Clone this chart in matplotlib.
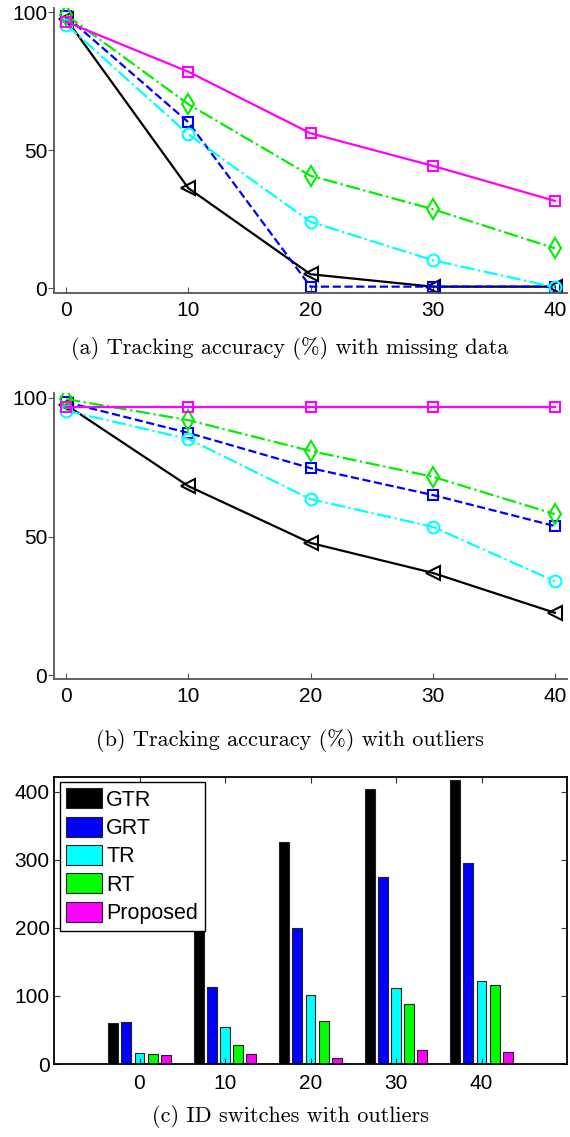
import numpy as np
import matplotlib
matplotlib.use("Agg")
import matplotlib.pyplot as plt

# data ------------------------------------------------------------
levels = [0, 10, 20, 30, 40]
methods = ["GTR", "GRT", "TR", "RT", "Proposed"]

# (a) tracking accuracy with missing data
gtr_a = [97.5, 36.2, 5.0, 0.5, 0.5]
grt_a = [98.5, 60.1, 0.5, 0.5, 0.5]
tr_a = [95.5, 55.7, 24.0, 10.1, 0.3]
rt_a = [99.0, 66.6, 40.7, 28.6, 14.4]
prop_a = [96.5, 78.4, 56.1, 44.3, 31.6]

# (b) tracking accuracy with outliers
gtr_b = [97.5, 68.2, 47.7, 36.9, 22.5]
grt_b = [98.5, 87.4, 74.7, 65.0, 53.8]
tr_b = [95.4, 85.2, 63.5, 53.5, 33.9]
rt_b = [99.6, 92.0, 80.9, 71.6, 58.1]
prop_b = [96.9, 96.9, 96.9, 96.9, 96.9]

# (c) ID switches with outliers
gtr_c = [60.7, 250, 326.5, 403.3, 417]
grt_c = [61, 113.6, 199.2, 274, 294.7]
tr_c = [15.6, 54.8, 101.8, 111.6, 121.9]
rt_c = [14.2, 27.9, 62.6, 87.6, 116]
prop_c = [13.2, 14.7, 9.3, 20.6, 18.1]

captions = ["(a) Tracking accuracy (%) with missing data",
            "(b) Tracking accuracy (%) with outliers",
            "(c) ID switches with outliers"]

# estilos das curvas
colors = ["black", "#0000ff", "#00ffff", "#00ee00", "#ff00ff"]
styles = ["-", "--", "-.", "-.", "-"]
markers = ["<", "s", "o", "d", "s"]
msizes = [10, 7, 8.5, 10.5, 7]

W, H = 570, 1137
fig = plt.figure(figsize=(W / 100, H / 100), dpi=100)
plt.rcParams["font.family"] = "Liberation Sans"

def line_panel(ax, series, ylim):
    for k, ys in enumerate(series):
        ax.plot(levels, ys, linestyle=styles[k], color=colors[k], marker=markers[k],
                markersize=msizes[k], markerfacecolor="none", markeredgecolor=colors[k],
                markeredgewidth=1.5, linewidth=1.6, label=methods[k])
    ax.set_xlim(-1, 41)
    ax.set_ylim(*ylim)
    ax.set_xticks(levels)
    ax.set_yticks([0, 50, 100])
    for s in ["top", "right"]:
        ax.spines[s].set_visible(False)
    for s in ["left", "bottom"]:
        ax.spines[s].set_color("#555555")
        ax.spines[s].set_linewidth(1.3)
    ax.tick_params(axis="x", direction="in", length=4, color="#555555", labelsize=15, pad=6)
    ax.tick_params(axis="y", direction="out", length=4, color="#555555", labelsize=15, pad=1)

ax_a = fig.add_axes([54 / W, 1 - 293 / H, 513 / W, 285 / H])
line_panel(ax_a, [gtr_a, grt_a, tr_a, rt_a, prop_a], (-1.8, 101.5))

ax_b = fig.add_axes([54 / W, 1 - 679 / H, 513 / W, 286 / H])
line_panel(ax_b, [gtr_b, grt_b, tr_b, rt_b, prop_b], (-1.4, 101.8))

# barras agrupadas
ax_c = fig.add_axes([54 / W, 1 - 1064 / H, 513 / W, 287.3 / H])
idx = np.arange(len(levels))
slot = 0.154
for k, vals in enumerate([gtr_c, grt_c, tr_c, rt_c, prop_c]):
    ax_c.bar(idx + (k - 2) * slot, vals, width=0.115, color=colors[k] if k != 3 else "#00ff00",
             edgecolor="#222222", linewidth=0.8, label=methods[k])
ax_c.set_xlim(-1, 5)
ax_c.set_ylim(0, 422)
ax_c.set_xticks(idx)
ax_c.set_xticklabels([str(v) for v in levels])
ax_c.set_yticks([0, 100, 200, 300, 400])
for s in ax_c.spines.values():
    s.set_linewidth(1.3)
    s.set_color("black")
ax_c.tick_params(axis="both", direction="in", length=4, top=True, right=True,
                 labelsize=15, color="#333333")
ax_c.tick_params(axis="x", pad=7)
ax_c.tick_params(axis="y", pad=3)
leg = ax_c.legend(loc="upper left", bbox_to_anchor=(0.0117, 0.982), borderaxespad=0,
                  fontsize=15.5, handlelength=1.65, handleheight=1.05, labelspacing=0.28,
                  handletextpad=0.2, borderpad=0.3, fancybox=False, framealpha=1,
                  edgecolor="black")
leg.get_frame().set_linewidth(1.0)

# legendas das figuras (estilo LaTeX)
ypos = [349, 741, 1117]
for cap, yp in zip(captions, ypos):
    fig.text(290 / W, 1 - yp / H, cap, ha="center", va="center",
             fontsize=16, family="cmr10")

fig.savefig("out.png", dpi=100)
